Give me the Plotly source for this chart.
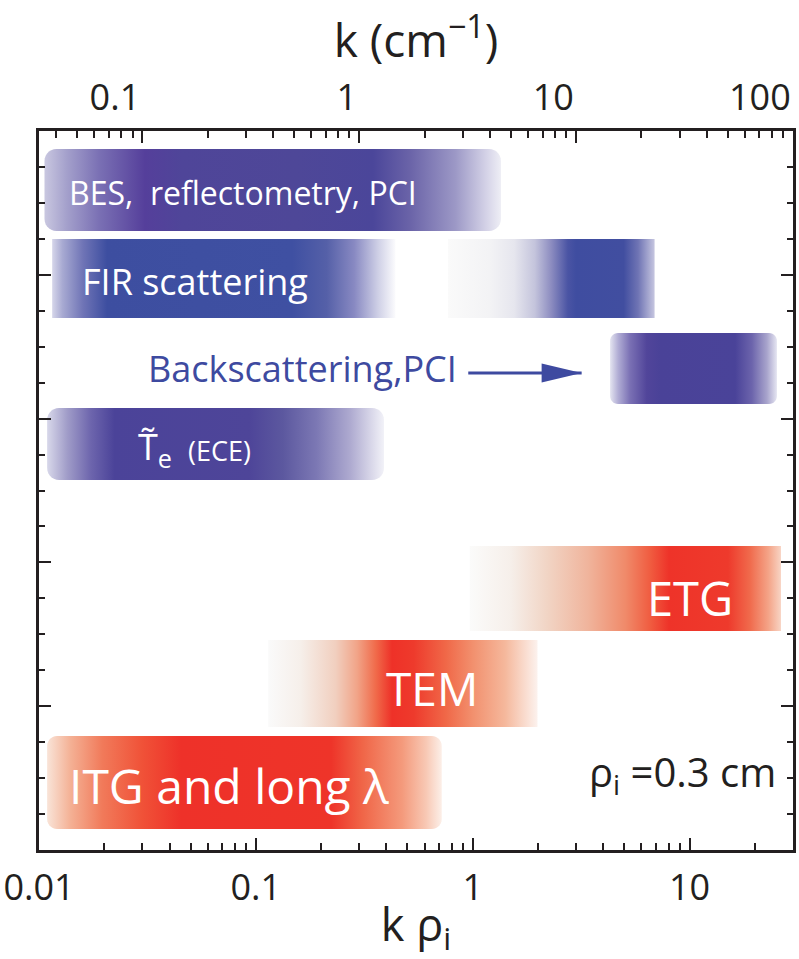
import numpy as np
import plotly.graph_objects as go

# ---------------------------------------------------------------------------
# data
# ---------------------------------------------------------------------------
RHO_I_CM = 0.3  # ion gyroradius used for the upper k axis

# k*rho_i coverage of each band (diagnostics in blue, instabilities in red)
band_names = ["BES", "FIR low-k", "FIR high-k", "Backscattering", "ECE",
              "ETG", "TEM", "ITG"]
band_kmin = [0.0106, 0.0115, 0.77, 4.3, 0.0109, 0.97, 0.114, 0.0109]
band_kmax = [1.35, 0.44, 6.9, 25.3, 0.39, 26.4, 1.99, 0.72]
band_ylo = [4.305, 3.700, 3.700, 3.102, 2.573, 1.523, 0.855, 0.146]
band_yhi = [4.875, 4.249, 4.249, 3.595, 3.074, 2.114, 1.460, 0.793]

# axis limits and ticks
kr_limits = [0.01, 30.0]
kr_ticks = [0.01, 0.1, 1, 10]
k_ticks = [0.1, 1, 10, 100]
row_limits = [0, 5]

# ---------------------------------------------------------------------------
# styles
# ---------------------------------------------------------------------------
INK = "#231f20"
BLUE_TXT = "#3e4aa0"
FONT = "Open Sans"

# corner radius (px) of each band
band_radius = [12, 0, 0, 8, 12, 0, 0, 10]

# horizontal colour ramps (fraction along band, colour)
band_ramps = [
    [[0, "#c9c7e0"], [0.05, "#a39fcb"], [0.12, "#7a70b4"], [0.22, "#553f9b"],
     [0.30, "#4f4599"], [0.55, "#4e4798"], [0.72, "#4b469a"], [0.80, "#6a63a8"],
     [0.90, "#9c98c6"], [0.97, "#d6d4e8"], [1, "#eeeef5"]],
    [[0, "#d6d6ea"], [0.03, "#a8aad2"], [0.09, "#6f74b6"], [0.16, "#3d4ea0"],
     [0.70, "#3f50a2"], [0.80, "#5560a8"], [0.88, "#8889c2"], [0.95, "#cfd0e6"],
     [1, "#fbfbfd"]],
    [[0, "#fafafa"], [0.20, "#f3f3f5"], [0.32, "#e6e6ee"], [0.42, "#c4c4dc"],
     [0.50, "#8c8cc0"], [0.58, "#4a54a4"], [0.62, "#3f4da0"], [0.85, "#414ea0"],
     [0.92, "#6f74b4"], [1, "#c6c6e0"]],
    [[0, "#e4e4f0"], [0.05, "#b0acd4"], [0.12, "#7a70b4"], [0.22, "#51459a"],
     [0.30, "#4a4298"], [0.75, "#4a4399"], [0.85, "#6c64ac"], [0.94, "#a8a4cc"],
     [1, "#e6e6f2"]],
    [[0, "#d8d8ea"], [0.06, "#a09cc8"], [0.13, "#6d65ad"], [0.20, "#4b4399"],
     [0.60, "#4e4599"], [0.70, "#5c589f"], [0.80, "#7c78b4"], [0.90, "#aeaad0"],
     [1, "#f2f2f8"]],
    [[0, "#fbfbfa"], [0.13, "#f6efea"], [0.25, "#f1d4c4"], [0.38, "#f0b49c"],
     [0.50, "#f08a6a"], [0.58, "#f05c40"], [0.64, "#ee3329"], [0.83, "#ee3a2c"],
     [0.90, "#f06a4c"], [0.96, "#f4a488"], [1, "#f8d4c4"]],
    [[0, "#fafafa"], [0.12, "#f6efea"], [0.25, "#f1cfbf"], [0.33, "#f1a488"],
     [0.40, "#f06a4a"], [0.46, "#ee3128"], [0.54, "#ee3a2c"], [0.66, "#f06848"],
     [0.76, "#f2906e"], [0.88, "#f5b89c"], [1, "#fcf2ee"]],
    [[0, "#f9e4d8"], [0.06, "#f4b094"], [0.14, "#f17a5a"], [0.24, "#f05238"],
     [0.34, "#ee3129"], [0.72, "#ee3429"], [0.80, "#f06648"], [0.90, "#f49a7c"],
     [0.96, "#f8c8b4"], [1, "#fcefe8"]],
]

W, H = 799, 959
M_L, M_R, M_T, M_B = 37, 3, 131, 109
plot_w = W - M_L - M_R
plot_h = H - M_T - M_B
px_per_decade = plot_w / (np.log10(kr_limits[1]) - np.log10(kr_limits[0]))
px_per_row = plot_h / (row_limits[1] - row_limits[0])


def rounded_box(k0, k1, y0, y1, r_px, n=8):
    """Outline of a box with rounded corners on a log-x / linear-y frame."""
    lx0, lx1 = np.log10(k0), np.log10(k1)
    if r_px <= 0:
        xs = [k0, k1, k1, k0, k0]
        ys = [y0, y0, y1, y1, y0]
        return xs, ys
    rx = r_px / px_per_decade
    ry = r_px / px_per_row
    centres = [(lx0 + rx, y0 + ry, np.pi), (lx1 - rx, y0 + ry, 1.5 * np.pi),
               (lx1 - rx, y1 - ry, 0.0), (lx0 + rx, y1 - ry, 0.5 * np.pi)]
    xs, ys = [], []
    for cx, cy, a0 in centres:
        a = np.linspace(a0, a0 + 0.5 * np.pi, n)
        xs.extend(10 ** (cx + rx * np.cos(a)))
        ys.extend(cy + ry * np.sin(a))
    xs.append(xs[0])
    ys.append(ys[0])
    return xs, ys


fig = go.Figure()

for i, name in enumerate(band_names):
    xs, ys = rounded_box(band_kmin[i], band_kmax[i], band_ylo[i], band_yhi[i],
                         band_radius[i])
    fig.add_trace(go.Scatter(
        x=xs, y=ys, mode="none", fill="toself", name=name,
        fillgradient=dict(type="horizontal", colorscale=band_ramps[i]),
        hoverinfo="skip", showlegend=False,
    ))

# invisible trace that carries the upper k axis
fig.add_trace(go.Scatter(
    x=[k_ticks[0], k_ticks[-1]], y=[-1, -1], xaxis="x2", mode="markers",
    marker=dict(opacity=0), hoverinfo="skip", showlegend=False,
))

# ---------------------------------------------------------------------------
# labels inside / beside the bands
# ---------------------------------------------------------------------------
label_text = ["BES,  reflectometry, PCI", "FIR scattering", "Backscattering,PCI",
              "T\u0303<sub>e</sub>", "(ECE)", "ETG", "TEM", "ITG and long \u03bb",
              "\u03c1<sub>i</sub> =0.3 cm"]
label_k = [0.01346, 0.01545, 0.0313, 0.0280, 0.0478, 10.1, 0.652, 0.01346, 3.36]
label_y = [4.569, 3.950, 3.345, 2.79, 2.775, 1.752, 1.127, 0.452, 0.53]
label_anchor = ["left", "left", "left", "left", "left", "center", "center", "left", "left"]
label_size = [32, 36, 36, 36, 27, 47, 46, 48, 40]
label_color = ["white", "white", BLUE_TXT, "white", "white", "white", "white", "white", INK]

for t, k, y, anc, s, c in zip(label_text, label_k, label_y, label_anchor,
                              label_size, label_color):
    fig.add_annotation(x=np.log10(k), y=y, xref="x", yref="y", text=t,
                       showarrow=False, xanchor=anc, yanchor="middle",
                       font=dict(family=FONT, size=s, color=c))

# arrow pointing towards the high-k backscattering band
arrow_k = [0.954, 3.18]
arrow_y = 3.317
fig.add_shape(type="line", xref="x", yref="y", x0=arrow_k[0], x1=arrow_k[1],
              y0=arrow_y, y1=arrow_y, line=dict(color=BLUE_TXT, width=3))
fig.add_shape(type="path", xref="x", yref="y", xsizemode="pixel",
              ysizemode="pixel", xanchor=arrow_k[1], yanchor=arrow_y,
              path="M 0,0 L -40,9.5 L -40,-9.5 Z", fillcolor=BLUE_TXT,
              line=dict(width=0))

axis_common = dict(
    type="log", showgrid=False, zeroline=False, showline=True,
    linecolor=INK, linewidth=2.5, ticks="inside", ticklen=12, tickwidth=2,
    tickcolor=INK, dtick=1,
    tickfont=dict(family=FONT, size=36, color=INK),
    minor=dict(ticks="inside", ticklen=7, tickwidth=2, tickcolor=INK,
               dtick="D1", showgrid=False),
)

fig.update_layout(
    width=W, height=H,
    margin=dict(l=M_L, r=M_R, t=M_T, b=M_B),
    paper_bgcolor="white", plot_bgcolor="white",
    showlegend=False,
    xaxis=dict(
        **axis_common,
        range=[np.log10(kr_limits[0]), np.log10(kr_limits[1])],
        tickvals=kr_ticks, ticktext=[str(v) for v in kr_ticks],
        ticklabelstandoff=4,
        title=dict(text="\u00a0k \u03c1<sub>i</sub>", standoff=0,
                   font=dict(family=FONT, size=45, color=INK)),
    ),
    xaxis2=dict(
        **axis_common,
        overlaying="x", side="top", anchor="y",
        range=[np.log10(kr_limits[0] / RHO_I_CM), np.log10(kr_limits[1] / RHO_I_CM)],
        tickvals=k_ticks, ticktext=[str(v) for v in k_ticks],
        ticklabelposition="outside left",
        ticklabelstandoff=4,
        title=dict(text="k (cm<sup>\u22121</sup>)", standoff=0,
                   font=dict(family=FONT, size=46, color=INK)),
    ),
    yaxis=dict(
        range=row_limits, showgrid=False, zeroline=False, showline=True,
        linecolor=INK, linewidth=2.5, mirror="ticks", ticks="inside",
        ticklen=12, tickwidth=2, tickcolor=INK, dtick=1, tick0=0,
        showticklabels=False,
        minor=dict(ticks="inside", ticklen=6, tickwidth=2, tickcolor=INK,
                   dtick=0.25, tick0=0, showgrid=False),
    ),
)

fig.write_html("out.html")
